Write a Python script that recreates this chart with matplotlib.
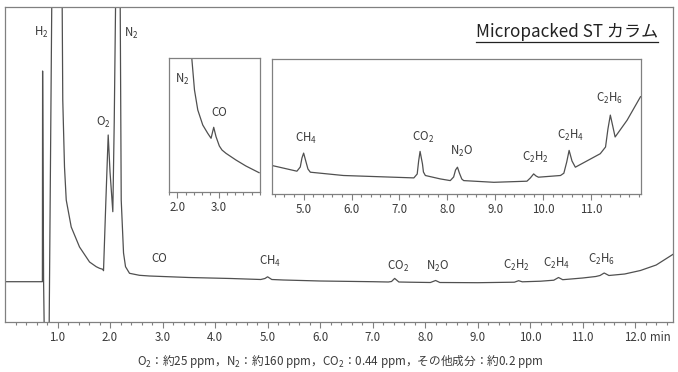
import matplotlib
matplotlib.use("Agg")
import matplotlib.pyplot as plt
from matplotlib.lines import Line2D
from matplotlib.ticker import FixedLocator
import numpy as np

plt.rcParams['font.family'] = ['Noto Sans CJK JP', 'DejaVu Sans']
plt.rcParams['mathtext.fontset'] = 'custom'
plt.rcParams['mathtext.rm'] = 'Noto Sans CJK JP'
plt.rcParams['mathtext.it'] = 'Noto Sans CJK JP'
plt.rcParams['mathtext.bf'] = 'Noto Sans CJK JP'
plt.rcParams['mathtext.sf'] = 'Noto Sans CJK JP'

# ---------------- data ----------------
# main chromatogram: retention time (min) and detector response (arb.)
main_time = [0.0, 0.712, 0.716, 0.735, 0.75, 0.80, 0.84, 0.89, 0.95, 1.0, 1.06, 1.089,
             1.10, 1.133, 1.166, 1.261, 1.419, 1.61, 1.737, 1.80, 1.863, 1.876,
             1.92, 1.965, 2.00, 2.053, 2.08, 2.105, 2.15, 2.194, 2.213, 2.257, 2.295,
             2.371, 2.56, 2.752, 3.5, 4.3, 4.87, 4.95, 5.0, 5.08, 5.3, 6.0, 7.0, 7.3,
             7.36, 7.42, 7.5, 7.7, 8.1, 8.2, 8.28, 9.0, 9.7, 9.78, 9.85, 10.2, 10.45,
             10.54, 10.62, 11.0, 11.25, 11.33, 11.41, 11.5, 11.8, 12.1, 12.4, 12.73]
main_resp = [40.3, 40.3, 251, 40, -20, -30, -10, 315, 600, 700, 600, 315,
             222, 155, 122, 95, 75, 60, 55.3, 53.7, 52.7, 51.3,
             120, 187, 150, 110.3, 200, 315, 900, 315, 122, 69, 55.3,
             48.7, 46.7, 46, 44.5, 43.5, 42.5, 43.5, 45.2, 42.5, 42, 41, 40.3, 40,
             40.5, 43.6, 40, 39.8, 39.5, 41.5, 39.5, 39.3, 39.8, 41.3, 40.2, 40.8, 41.8,
             44.5, 42.3, 44, 45.5, 46.5, 49, 46.5, 48, 51.5, 57, 68]

# inset 1 (1.8 - 4.0 min)
in1_time = [2.30, 2.351, 2.416, 2.496, 2.616, 2.736, 2.817, 2.881, 2.937, 3.017,
            3.081, 3.177, 3.418, 3.659, 3.978]
in1_resp = [170, 133.7, 102, 82, 67, 58.7, 53.7, 64.7, 55.3, 46,
            42, 38.7, 32, 26, 19.3]

# inset 2 (4.35 - 12.0 min)
in2_time = [4.34, 4.86, 4.93, 4.965, 5.0, 5.05, 5.09, 5.14, 5.83, 7.30, 7.37, 7.40,
            7.43, 7.48, 7.50, 7.54, 7.85, 8.06, 8.13, 8.17, 8.21, 8.25, 8.30, 8.34,
            8.97, 9.66, 9.73, 9.80, 9.85, 9.90, 10.36, 10.43, 10.49, 10.54, 10.60,
            10.67, 11.19, 11.30, 11.35, 11.40, 11.45, 11.50, 11.75, 12.03]
in2_resp = [28.5, 22.8, 27, 36, 40.9, 32, 25, 21.8, 18.5, 16.1, 20, 33,
            42.6, 30, 22, 18.5, 15.1, 13.4, 17, 24, 26.8, 21, 15, 13.4,
            11.7, 12.8, 16, 20.1, 18, 16.8, 18.5, 20.8, 32, 43.6, 33,
            26.8, 40.3, 47, 65, 78.9, 68, 57, 73.8, 97.3]

main_ticks = [1, 2, 3, 4, 5, 6, 7, 8, 9, 10, 11, 12]
main_ticklabels = ['1.0', '2.0', '3.0', '4.0', '5.0', '6.0', '7.0', '8.0', '9.0',
                   '10.0', '11.0', '12.0']
in1_ticks = [2, 3]
in1_ticklabels = ['2.0', '3.0']
in2_ticks = [5, 6, 7, 8, 9, 10, 11]
in2_ticklabels = ['5.0', '6.0', '7.0', '8.0', '9.0', '10.0', '11.0']

main_labels = ['H$_2$', 'N$_2$', 'O$_2$', 'CO', 'CH$_4$', 'CO$_2$', 'N$_2$O',
               'C$_2$H$_2$', 'C$_2$H$_4$', 'C$_2$H$_6$']
main_label_t = [0.695, 2.41, 1.876, 2.943, 5.057, 7.476, 8.238, 9.743, 10.505, 11.36]
main_label_v = [290, 289, 200, 63, 61, 56, 56, 57, 59, 63]

in1_labels = ['N$_2$', 'CO']
in1_label_t = [2.12, 3.02]
in1_label_v = [113, 80]

in2_labels = ['CH$_4$', 'CO$_2$', 'N$_2$O', 'C$_2$H$_2$', 'C$_2$H$_4$', 'C$_2$H$_6$']
in2_label_t = [5.06, 7.49, 8.29, 9.83, 10.58, 11.38]
in2_label_v = [56, 57, 43, 37, 59, 96]

unit_label = 'min'
title_text = 'Micropacked ST カラム'
footnote = 'O$_2$：約25 ppm，N$_2$：約160 ppm，CO$_2$：0.44 ppm，その他成分：約0.2 ppm'

# ---------------- figure ----------------
W, H = 678, 372
fig = plt.figure(figsize=(W / 100, H / 100), dpi=100)
fig.patch.set_facecolor('white')

def rect(l, t, r, b):
    return [l / W, 1 - b / H, (r - l) / W, (b - t) / H]

LINE = '#505050'
FRAME = '#808080'
TXT = '#3a3a3a'

def style(ax, fs=8):
    for s in ax.spines.values():
        s.set_color(FRAME)
        s.set_linewidth(0.9)
    ax.set_yticks([])
    ax.tick_params(axis='x', which='major', direction='out', length=4.5, width=0.8,
                   color=FRAME, labelsize=fs, labelcolor=TXT, pad=2)
    ax.tick_params(axis='x', which='minor', direction='out', length=2.5, width=0.8,
                   color=FRAME)

ax = fig.add_axes(rect(5, 7, 673, 322))
ax.plot(main_time, main_resp, color=LINE, lw=0.9)
ax.set_xlim(0, 12.72)
ax.set_ylim(0, 315)
ax.set_xticks(main_ticks)
ax.set_xticklabels(main_ticklabels)
ax.xaxis.set_minor_locator(FixedLocator(np.round(np.arange(0.2, 12.7, 0.2), 2)))
style(ax, 8.3)
for lab, t, v in zip(main_labels, main_label_t, main_label_v):
    ax.text(t, v, lab, ha='center', va='center', fontsize=8.3, color=TXT)
main_lbl = ax.get_xticklabels()[-1]
fig.canvas.draw()
tb = main_lbl.get_window_extent()
fig.text(660 / W, (tb.y0 + tb.y1) / 2 / H, unit_label, ha='center', va='center',
         fontsize=8.3, color=TXT)

a1 = fig.add_axes(rect(169, 58, 260, 192))
a1.plot(in1_time, in1_resp, color=LINE, lw=0.9)
a1.set_xlim(1.8, 4.0)
a1.set_ylim(0, 134)
a1.set_xticks(in1_ticks)
a1.set_xticklabels(in1_ticklabels)
a1.xaxis.set_minor_locator(FixedLocator(np.round(np.arange(1.8, 4.01, 0.2), 2)))
style(a1, 8.3)
for lab, t, v in zip(in1_labels, in1_label_t, in1_label_v):
    a1.text(t, v, lab, ha='center', va='center', fontsize=8.3, color=TXT)

a2 = fig.add_axes(rect(272, 59, 641, 194))
a2.plot(in2_time, in2_resp, color=LINE, lw=0.9)
a2.set_xlim(4.34, 12.04)
a2.set_ylim(0, 135)
a2.set_xticks(in2_ticks)
a2.set_xticklabels(in2_ticklabels)
a2.xaxis.set_minor_locator(FixedLocator(np.round(np.arange(4.4, 12.01, 0.2), 2)))
style(a2, 8.3)
for lab, t, v in zip(in2_labels, in2_label_t, in2_label_v):
    a2.text(t, v, lab, ha='center', va='center', fontsize=8.3, color=TXT)

title = fig.text(658 / W, 1 - 37 / H, title_text, ha='right', va='baseline',
                 fontsize=12.3, color='#222222')
fig.text(340 / W, 1 - 361 / H, footnote, ha='center', va='center', fontsize=8.4,
         color=TXT)

fig.canvas.draw()
bb = title.get_window_extent()
yline = (bb.y0 - 0.5) / H
fig.add_artist(Line2D([bb.x0 / W, bb.x1 / W], [yline, yline], transform=fig.transFigure,
                      color='#222222', lw=0.9))

fig.savefig('out.png', dpi=100)
